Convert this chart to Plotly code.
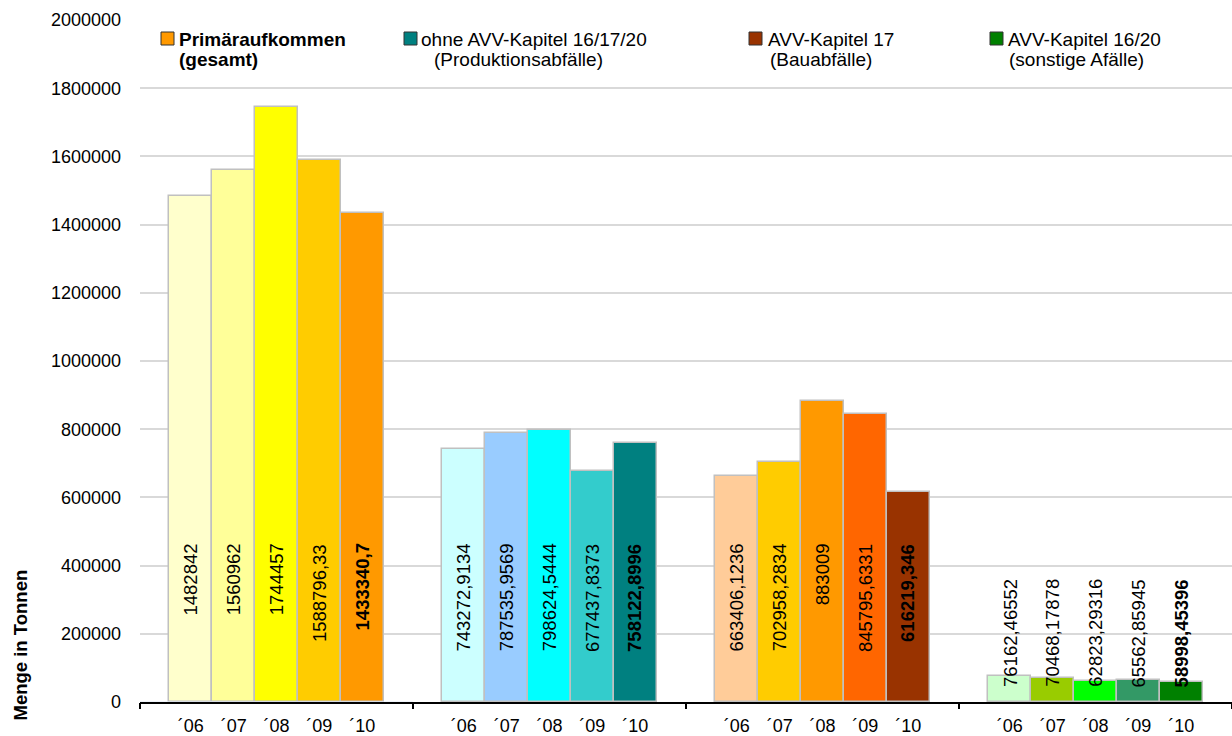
import plotly.graph_objects as go

# ---------------- data ----------------
groups = ["Primäraufkommen (gesamt)", "Produktionsabfälle", "Bauabfälle", "sonstige Abfälle"]
years = ["´06", "´07", "´08", "´09", "´10"]

primaer = [1482842, 1560962, 1744457, 1588796.33, 1433340.7]
produktion = [743272.9134, 787535.9569, 798624.5444, 677437.8373, 758122.8996]
bau = [663406.1236, 702958.2834, 883009, 845795.6331, 616219.346]
sonstige = [76162.46552, 70468.17878, 62823.29316, 65562.85945, 58998.45396]

legend_line1 = ["Primäraufkommen", "ohne AVV-Kapitel 16/17/20", "AVV-Kapitel 17", "AVV-Kapitel 16/20"]
legend_line2 = ["(gesamt)", "(Produktionsabfälle)", "(Bauabfälle)", "(sonstige Afälle)"]

y_ticks = [0, 200000, 400000, 600000, 800000, 1000000, 1200000, 1400000, 1600000, 1800000, 2000000]

# ---------------- styles ----------------
colors = [
    ["#FFFFCC", "#FFFF99", "#FFFF00", "#FFCC00", "#FF9900"],
    ["#CCFFFF", "#99CCFF", "#00FFFF", "#33CCCC", "#008080"],
    ["#FFCC99", "#FFCC00", "#FF9900", "#FF6600", "#993300"],
    ["#CCFFCC", "#99CC00", "#00FF00", "#339966", "#008000"],
]
legend_colors = ["#FF9900", "#008080", "#993300", "#008000"]
BAR_PITCH = 0.157
LABEL_TOP = [470000, 470000, 470000, 366000]
FONT = "Liberation Sans, Arial, sans-serif"

W, H = 1232, 736
ML, MR, MT, MB = 140, 0, 20, 34
PW, PH = W - ML - MR, H - MT - MB


def px_x(px):
    return (px - ML) / PW


def px_y(py):
    return (H - MB - py) / PH


series = [primaer, produktion, bau, sonstige]

fig = go.Figure()
tickvals, ticktext = [], []
annotations = []
for g, vals in enumerate(series):
    xs = [g + (i - 2) * BAR_PITCH for i in range(len(vals))]
    fig.add_trace(go.Bar(
        x=xs, y=vals, width=BAR_PITCH,
        marker=dict(color=colors[g], line=dict(color="#C0C0C0", width=1.5)),
        name=groups[g], showlegend=False, hoverinfo="y",
    ))
    tickvals += xs
    ticktext += years
    for i, v in enumerate(vals):
        label = str(v).replace(".", ",")
        if i == len(vals) - 1:
            label = "<b>" + label + "</b>"
        annotations.append(dict(
            x=xs[i], y=LABEL_TOP[g], xref="x", yref="y",
            text=label, textangle=-90, showarrow=False,
            xanchor="center", yanchor="top",
            font=dict(family=FONT, size=18.5, color="#000000"),
        ))

# legend built from annotations + shapes
shapes = []
sq_left = [161, 404, 749, 990]
txt1_left = [177, 419, 766, 1006]
txt2_left = [177, 432, 768, 1007]
for k in range(4):
    shapes.append(dict(
        type="rect", xref="paper", yref="paper",
        x0=px_x(sq_left[k]), x1=px_x(sq_left[k] + 13),
        y0=px_y(45), y1=px_y(32),
        fillcolor=legend_colors[k], line=dict(color="#333333", width=1),
    ))
    bold = k == 0
    for line, xl, yc in ((legend_line1[k], txt1_left[k], 40), (legend_line2[k], txt2_left[k], 60)):
        annotations.append(dict(
            x=px_x(xl), y=px_y(yc), xref="paper", yref="paper",
            text=("<b>" + line + "</b>") if bold else line,
            showarrow=False, xanchor="left", yanchor="middle",
            font=dict(family=FONT, size=19, color="#000000"),
        ))

# y-axis title
annotations.append(dict(
    x=px_x(20), y=px_y(723), xref="paper", yref="paper",
    text="<b>Menge in Tonnen</b>", textangle=-90, showarrow=False,
    xanchor="center", yanchor="bottom",
    font=dict(family=FONT, size=18.5, color="#000000"),
))

# overlay axis for group boundary ticks
fig.add_trace(go.Bar(x=[0], y=[0], xaxis="x2", showlegend=False, hoverinfo="skip",
                     marker=dict(color="rgba(0,0,0,0)")))

fig.update_layout(
    width=W, height=H,
    margin=dict(l=ML, r=MR, t=MT, b=MB),
    paper_bgcolor="white", plot_bgcolor="white",
    font=dict(family=FONT, size=18, color="#000000"),
    bargap=0,
    xaxis=dict(
        range=[-0.5, 3.5], tickvals=tickvals, ticktext=ticktext,
        ticks="", showgrid=False, zeroline=False,
        showline=True, linecolor="#000000", linewidth=2,
        tickfont=dict(size=18, family=FONT), ticklabelstandoff=6,
    ),
    xaxis2=dict(
        overlaying="x", anchor="y", side="bottom",
        range=[-0.5, 3.5], tickvals=[-0.5, 0.5, 1.5, 2.5, 3.5],
        ticks="outside", ticklen=6, tickwidth=2, tickcolor="#000000",
        showticklabels=False, showgrid=False, zeroline=False, showline=False,
    ),
    yaxis=dict(
        range=[0, 2000000], tickvals=y_ticks, ticktext=[str(t) for t in y_ticks],
        showgrid=True, gridcolor="#D9D9D9", gridwidth=2,
        zeroline=False, showline=False, ticks="",
        tickfont=dict(size=18, family=FONT), ticklabelstandoff=18,
    ),
    shapes=shapes,
    annotations=annotations,
)

fig.write_html("out.html")
